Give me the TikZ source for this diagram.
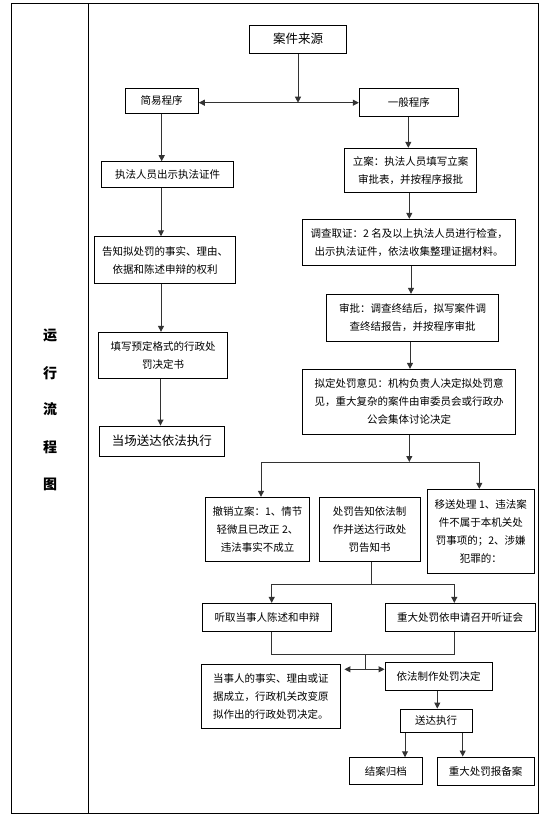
\documentclass[tikz,border=0pt]{standalone}
\usepackage{fontspec}
\newfontfamily\cjk{Noto Sans CJK SC}
\usetikzlibrary{arrows.meta}
\tikzset{
  box/.style={draw=black, line width=0.9pt, rectangle, inner sep=0pt, align=center,
    font=\cjk\fontsize{10.5}{18}\selectfont, text=black},
  bigbox/.style={box, font=\cjk\fontsize{12.5}{18}\selectfont},
  conn/.style={line width=1pt, draw=black!80},
  arr/.style={conn, -{Triangle[length=6pt,width=6pt]}},
  side/.style={font=\cjk\bfseries\fontsize{14}{16}\selectfont, inner sep=0pt}
}
\begin{document}
\begin{tikzpicture}[x=1pt,y=-1pt]
\useasboundingbox (0,0) rectangle (554,818);
% frame
\draw[line width=0.9pt] (11.5,3.5) rectangle (538.3,813.3);
\draw[line width=0.9pt] (88,3.5) -- (88,813.3);
% side text
\node[side] (t1) at (50,335) {运};
\node[side] (t2) at (50,373) {行};
\node[side] (t3) at (50,409) {流};
\node[side] (t4) at (50,447) {程};
\node[side] (t5) at (50,484) {图};
% nodes
\node[bigbox, minimum width=97.4pt, minimum height=28.3pt] (src) at (298,39.2) {案件来源};
\node[box, minimum width=73.3pt, minimum height=25pt] (simple) at (161.7,100.8) {简易程序};
\node[box, minimum width=99pt, minimum height=28.4pt] (general) at (408.8,102.5) {一般程序};
\node[box, minimum width=131.6pt, minimum height=25.6pt] (s1) at (167.5,174.5) {执法人员出示执法证件};
\node[box, minimum width=141.4pt, minimum height=46.6pt] (s2) at (165,260) {告知拟处罚的事实、理由、\\依据和陈述申辩的权利};
\node[box, minimum width=129.4pt, minimum height=46pt] (s3) at (163,355.3) {填写预定格式的行政处\\罚决定书};
\node[bigbox, minimum width=125pt, minimum height=30pt] (s4) at (161.8,441) {当场送达依法执行};
\node[box, minimum width=132.4pt, minimum height=44pt] (g1) at (410.5,170.3) {立案：执法人员填写立案\\审批表，并按程序报批};
\node[box, minimum width=213pt, minimum height=46.4pt] (g2) at (409.2,242.5) {调查取证：2 名及以上执法人员进行检查，\\出示执法证件，依法收集整理证据材料。};
\node[box, minimum width=171.6pt, minimum height=47.4pt] (g3) at (412.5,318) {审批：调查终结后，拟写案件调\\查终结报告，并按程序审批};
\node[box, minimum width=213pt, minimum height=65pt] (g4) at (409.2,401.8) {拟定处罚意见：机构负责人决定拟处罚意\\见，重大复杂的案件由审委员会或行政办\\公会集体讨论决定};
\node[box, minimum width=103.6pt, minimum height=64.4pt] (b1) at (257.5,529.5) {撤销立案：1、情节\\轻微且已改正 2、\\违法事实不成立};
\node[box, minimum width=100.7pt, minimum height=64.4pt] (b2) at (369.7,529.5) {处罚告知依法制\\作并送达行政处\\罚告知书};
\node[box, minimum width=107pt, minimum height=84pt] (b3) at (480.8,531.3) {移送处理 1、违法案\\件不属于本机关处\\罚事项的；2、涉嫌\\犯罪的：};
\node[box, minimum width=129pt, minimum height=27.7pt] (h1) at (267.2,617.2) {听取当事人陈述和申辩};
\node[box, minimum width=150pt, minimum height=27.7pt] (h2) at (460,617.2) {重大处罚依申请召开听证会};
\node[box, minimum width=138.3pt, minimum height=64.3pt] (c1) at (270.8,696.2) {当事人的事实、理由或证\\据成立，行政机关改变原\\拟作出的行政处罚决定。};
\node[box, minimum width=107.3pt, minimum height=27.7pt] (c2) at (438.7,676.2) {依法制作处罚决定};
\node[box, minimum width=72.3pt, minimum height=23.3pt] (d) at (436.2,720.7) {送达执行};
\node[box, minimum width=73pt, minimum height=26.6pt] (e1) at (385.8,771) {结案归档};
\node[box, minimum width=96.7pt, minimum height=28pt] (e2) at (485.7,771) {重大处罚报备案};
% junctions
\coordinate (j1) at (298,102.7);
\coordinate (j2) at (409.3,462);
\coordinate (j2l) at (261,462);
\coordinate (j2r) at (479.3,462);
\coordinate (j3) at (371,584.3);
\coordinate (j3l) at (271.7,584.3);
\coordinate (j3r) at (454.3,584.3);
\coordinate (m1) at (271.7,654);
\coordinate (m2) at (454.3,654);
\coordinate (m) at (365,654);
\coordinate (j4) at (365,669.3);
% connectors
\draw[arr] (src.south) -- (j1);
\draw[arr] (j1) -- (simple.east |- j1);
\draw[arr] (j1) -- (general.west |- j1);
\draw[arr] (simple.south) -- (simple.south |- s1.north);
\draw[arr] (s1.south -| 161,0) -- (s2.north -| 161,0);
\draw[arr] (s2.south -| 161,0) -- (s3.north -| 161,0);
\draw[arr] (s3.south -| 160.5,0) -- (s4.north -| 160.5,0);
\draw[arr] (general.south -| 408.3,0) -- (g1.north -| 408.3,0);
\draw[arr] (g1.south -| 409.3,0) -- (g2.north -| 409.3,0);
\draw[arr] (g2.south -| 411,0) -- (g3.north -| 411,0);
\draw[arr] (g3.south -| 410,0) -- (g4.north -| 410,0);
\draw[arr] (g4.south -| j2) -- (j2);
\draw[conn] (j2l) -- (j2r);
\draw[arr] (j2l) -- (j2l |- b1.north);
\draw[arr] (j2r) -- (j2r |- b3.north);
\draw[conn] (b2.south -| j3) -- (j3);
\draw[conn] (j3l) -- (j3r);
\draw[arr] (j3l) -- (j3l |- h1.north);
\draw[arr] (j3r) -- (j3r |- h2.north);
\draw[conn] (h1.south -| m1) -- (m1) -- (m2) -- (h2.south -| m2);
\draw[conn] (m) -- (j4);
\draw[arr] (j4) -- ([xshift=4pt]c1.east |- j4);
\draw[arr] (j4) -- (c2.west |- j4);
\draw[arr] (c2.south -| 437.3,0) -- (d.north -| 437.3,0);
\draw[arr] (d.south -| 405,0) -- (e1.north -| 405,0);
\draw[arr] (d.south -| 462.7,0) -- (e2.north -| 462.7,0);
\end{tikzpicture}
\end{document}
